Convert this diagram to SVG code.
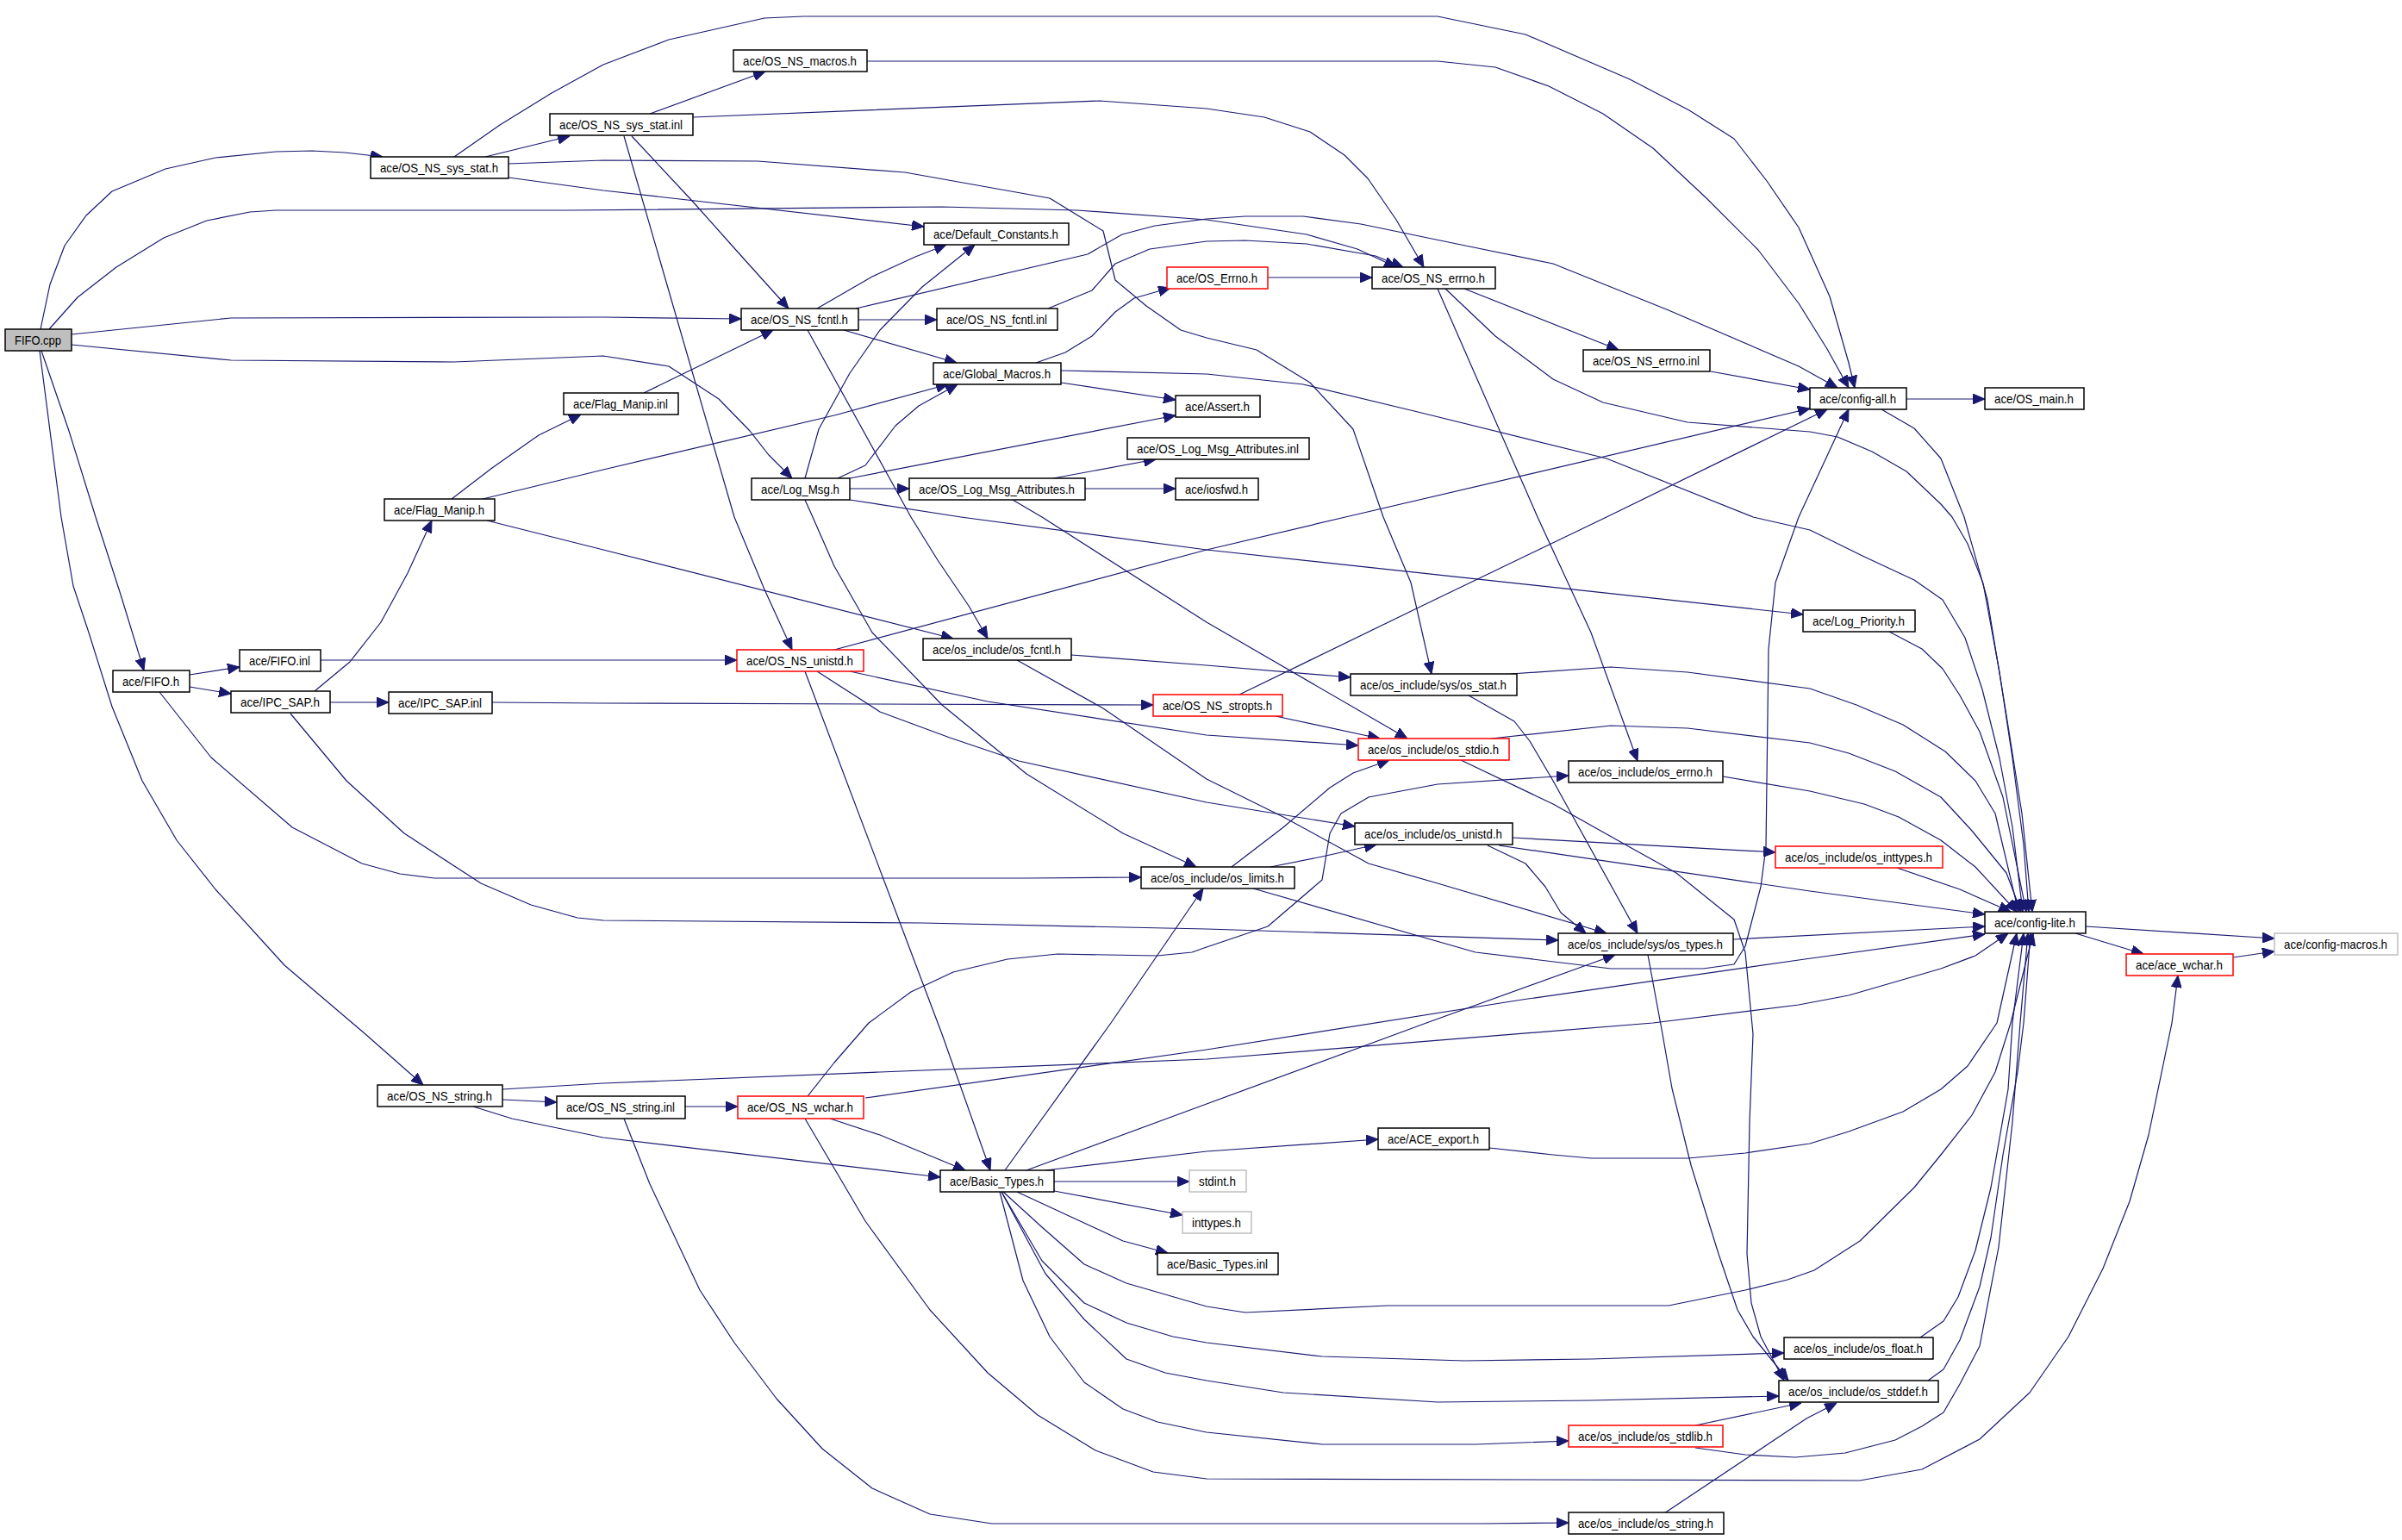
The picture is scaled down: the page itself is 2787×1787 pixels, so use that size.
<svg xmlns="http://www.w3.org/2000/svg" width="2787" height="1787" viewBox="0 0 2787 1787">
<defs>
<style>
.e{fill:none;stroke:#191970;stroke-width:1.2;stroke-linejoin:round;marker-end:url(#a)}
.n rect{fill:#ffffff;stroke:#000000;stroke-width:1.5}
.n.r rect{stroke:#ff0000}
.n.g rect{stroke:#bfbfbf}
.n.s rect{fill:#bfbfbf}
.n text{font-family:"Liberation Sans",Arial,Helvetica,sans-serif;font-size:15px;fill:#000000}
</style>
<marker id="a" markerWidth="14" markerHeight="12" refX="14" refY="6" orient="auto" markerUnits="userSpaceOnUse">
<path d="M0,0 L14,6 L0,12 z" fill="#191970" stroke="#191970" stroke-width="1"/>
</marker>
</defs>
<rect width="2787" height="1787" fill="#ffffff"/>
<g id="edges">
<polyline class="e" points="47,382 58,330 75,285 100,250 130,222 192,196 250,183 320,176 362,175 400,177 444,182"/>
<polyline class="e" points="57,382 90,345 135,310 190,276 240,256 290,246 320,244 660,244 1093,240 1250,244 1400,255 1516,272 1575,289 1620,310"/>
<polyline class="e" points="83,388 268,369 700,368 860,370"/>
<polyline class="e" points="83,400 268,418 527,420 700,413 776,425 834,463 870,500 892,528 919,555"/>
<polyline class="e" points="48,407 80,500 111,600 140,690 167,778"/>
<polyline class="e" points="46,407 58,500 71,600 85,680 103,734 130,820 165,906 205,975 250,1032 330,1120 424,1200 491,1259"/>
<polyline class="e" points="563,182 661,158"/>
<polyline class="e" points="527,182 580,145 640,108 700,75 776,46 887,21 932,19 1400,19 1668,19 1770,40 1891,92 1960,128 2012,161 2050,210 2087,264 2123,344 2145,421 2152,450"/>
<polyline class="e" points="590,206 700,221 1072,263"/>
<polyline class="e" points="590,190 700,186 879,187 1050,200 1218,230 1280,268 1294,325 1330,355 1370,383 1400,392 1458,406 1520,444 1570,498 1605,600 1637,676 1661,782"/>
<polyline class="e" points="1006,71 1668,71 1735,78 1797,100 1860,132 1918,172 1980,230 2040,290 2087,352 2120,405 2145,450"/>
<polyline class="e" points="754,132 888,83"/>
<polyline class="e" points="804,136 1276,117 1400,126 1467,136 1520,153 1560,180 1587,207 1620,255 1652,310"/>
<polyline class="e" points="733,158 803,233 861,298 915,358"/>
<polyline class="e" points="724,158 852,600 887,684 919,754"/>
<polyline class="e" points="948,358 1012,321 1062,298 1098,284"/>
<polyline class="e" points="996,371 1087,371"/>
<polyline class="e" points="979,383 1110,421"/>
<polyline class="e" points="993,358 1262,295 1302,272 1340,262 1400,254 1445,251 1512,251 1579,260 1700,285 1802,306 1936,360 2087,425 2132,450"/>
<polyline class="e" points="937,383 1057,600 1088,650 1124,703 1146,741"/>
<polyline class="e" points="1216,358 1267,337 1294,306 1334,289 1400,280 1445,279 1516,283 1596,297 1628,310"/>
<polyline class="e" points="1202,421 1236,409 1267,390 1294,362 1316,346 1358,334"/>
<polyline class="e" points="1231,444 1364,464"/>
<polyline class="e" points="1231,430 1400,434 1512,446 1645,478 1864,532 2034,600 2100,615 2163,646 2221,673 2254,696 2280,740 2300,800 2320,880 2335,960 2347,1058"/>
<polyline class="e" points="747,456 897,383"/>
<polyline class="e" points="524,579 571,543 625,505 674,481"/>
<polyline class="e" points="560,579 700,545 968,482 1100,446"/>
<polyline class="e" points="565,604 700,638 1106,741"/>
<polyline class="e" points="934,555 950,498 986,433 1021,383 1070,333 1131,284"/>
<polyline class="e" points="972,555 1004,540 1039,494 1066,471 1111,446"/>
<polyline class="e" points="986,555 1364,482"/>
<polyline class="e" points="986,567 1055,567"/>
<polyline class="e" points="986,580 1115,600 1400,638 2092,713"/>
<polyline class="e" points="934,580 943,600 968,657 1012,734 1093,818 1191,898 1303,967 1388,1006"/>
<polyline class="e" points="1222,555 1341,533"/>
<polyline class="e" points="1259,567 1364,567"/>
<polyline class="e" points="1175,580 1209,600 1400,722 1633,857"/>
<polyline class="e" points="1699,335 1878,406"/>
<polyline class="e" points="1677,335 1735,390 1802,440 1860,467 1958,490 2100,501 2132,507 2172,524 2212,547 2252,585 2265,600 2283,631 2301,677 2320,780 2335,880 2348,980 2354,1058"/>
<polyline class="e" points="1668,335 1784,600 1846,734 1900,883"/>
<polyline class="e" points="1471,322 1592,322"/>
<polyline class="e" points="1985,431 2100,452"/>
<polyline class="e" points="2212,463 2303,463"/>
<polyline class="e" points="2183,475 2221,497 2252,532 2279,600 2306,696 2328,830 2346,944 2358,1058"/>
<polyline class="e" points="2192,733 2230,753 2254,776 2274,807 2297,849 2324,925 2351,1058"/>
<polyline class="e" points="220,783 278,774"/>
<polyline class="e" points="220,797 268,805"/>
<polyline class="e" points="185,803 245,879 339,960 420,1002 464,1014 504,1019 700,1019 1191,1019 1324,1018"/>
<polyline class="e" points="372,766 855,766"/>
<polyline class="e" points="365,802 406,768 442,722 473,665 501,604"/>
<polyline class="e" points="383,815 451,815"/>
<polyline class="e" points="337,828 402,906 469,967 558,1025 616,1050 670,1065 700,1068 1070,1071 1400,1078 1808,1091"/>
<polyline class="e" points="571,815 700,816 1338,818"/>
<polyline class="e" points="968,754 1400,638 1561,600 2100,474"/>
<polyline class="e" points="986,779 1146,814 1400,853 1576,865"/>
<polyline class="e" points="948,779 1021,826 1102,856 1182,883 1400,931 1572,959"/>
<polyline class="e" points="934,779 1093,1200 1149,1358"/>
<polyline class="e" points="1243,760 1400,772 1567,786"/>
<polyline class="e" points="1180,766 1280,822 1400,904 1489,948 1588,1002 1668,1025 1864,1083"/>
<polyline class="e" points="1438,806 1650,703 1864,600 2120,475"/>
<polyline class="e" points="1480,831 1601,857"/>
<polyline class="e" points="1753,782 1869,774 1958,780 2100,799 2154,818 2208,841 2257,872 2292,906 2315,944 2342,1058"/>
<polyline class="e" points="1704,807 1757,837 1775,860 1802,906 1900,1083"/>
<polyline class="e" points="1730,857 1869,842 1958,845 2100,862 2145,874 2199,895 2252,925 2288,964 2328,1013 2345,1058"/>
<polyline class="e" points="1695,882 1802,933 1891,983 1945,1013 2012,1067 2025,1105 2034,1200 2030,1302 2027,1455 2032,1512 2043,1551 2070,1602"/>
<polyline class="e" points="1999,901 2100,918 2163,933 2203,948 2252,975 2292,1006 2340,1058"/>
<polyline class="e" points="1755,972 2060,989"/>
<polyline class="e" points="1739,981 2100,1034 2303,1061"/>
<polyline class="e" points="1726,981 1770,1002 1793,1029 1811,1059 1840,1083"/>
<polyline class="e" points="1429,1006 1489,960 1543,914 1570,897 1612,882"/>
<polyline class="e" points="1474,1006 1534,994 1597,980"/>
<polyline class="e" points="1454,1031 1712,1105 1869,1124 1976,1124 2012,1119 2025,1098 2043,1029 2049,983 2052,753 2060,676 2087,600 2145,475"/>
<polyline class="e" points="1166,1358 1289,1187 1396,1031"/>
<polyline class="e" points="1191,1358 1400,1281 1655,1187 1874,1108"/>
<polyline class="e" points="1213,1358 1400,1336 1599,1322"/>
<polyline class="e" points="1223,1371 1380,1371"/>
<polyline class="e" points="1223,1382 1372,1410"/>
<polyline class="e" points="1180,1383 1303,1440 1355,1454"/>
<polyline class="e" points="1164,1383 1209,1424 1258,1467 1307,1489 1400,1516 1445,1523 1610,1515 1936,1515 2025,1497 2074,1485 2105,1474 2158,1440 2221,1378 2252,1340 2288,1294 2315,1244 2333,1187 2359,1083"/>
<polyline class="e" points="1162,1383 1209,1463 1258,1512 1307,1535 1361,1551 1400,1558 1534,1574 1699,1579 1846,1577 2070,1570"/>
<polyline class="e" points="1162,1383 1213,1478 1258,1531 1307,1577 1352,1593 1400,1602 1489,1616 1668,1627 1846,1625 2064,1620"/>
<polyline class="e" points="1160,1383 1187,1486 1218,1551 1258,1604 1303,1635 1343,1650 1400,1662 1534,1676 1712,1676 1820,1672"/>
<polyline class="e" points="963,1298 1021,1317 1120,1358"/>
<polyline class="e" points="1004,1274 1400,1218 1766,1160 2087,1114 2303,1084"/>
<polyline class="e" points="937,1272 968,1233 1008,1187 1057,1151 1106,1128 1169,1113 1227,1107 1343,1109 1383,1105 1400,1099 1471,1075 1534,1021 1543,967 1556,944 1588,925 1668,910 1820,900"/>
<polyline class="e" points="934,1298 1004,1417 1079,1520 1146,1593 1204,1642 1271,1683 1338,1708 1400,1716 2158,1718 2230,1705 2297,1670 2355,1616 2400,1551 2440,1472 2471,1394 2493,1317 2520,1187 2527,1132"/>
<polyline class="e" points="583,1276 646,1279"/>
<polyline class="e" points="583,1264 700,1257 1021,1244 1400,1229 1918,1187 2087,1166 2145,1155 2252,1124 2292,1109 2330,1083"/>
<polyline class="e" points="549,1284 594,1298 700,1320 1091,1366"/>
<polyline class="e" points="795,1284 856,1284"/>
<polyline class="e" points="724,1298 754,1374 812,1497 852,1558 901,1623 954,1681 1012,1727 1079,1757 1151,1768 1400,1768 1721,1768 1820,1767"/>
<polyline class="e" points="1931,1756 2096,1646 2131,1628"/>
<polyline class="e" points="1967,1654 2090,1628"/>
<polyline class="e" points="1967,1680 2025,1688 2083,1691 2141,1686 2199,1671 2230,1655 2255,1639 2274,1606 2297,1562 2319,1447 2335,1302 2344,1187 2353,1083"/>
<polyline class="e" points="2228,1552 2255,1533 2272,1505 2292,1451 2310,1378 2330,1264 2335,1187 2348,1083"/>
<polyline class="e" points="2237,1602 2255,1589 2274,1555 2297,1493 2310,1436 2324,1340 2341,1244 2348,1187 2356,1083"/>
<polyline class="e" points="1728,1332 1802,1340 1846,1344 1958,1344 2025,1338 2100,1327 2145,1313 2208,1290 2252,1264 2283,1237 2317,1187 2340,1083"/>
<polyline class="e" points="2011,1090 2303,1075"/>
<polyline class="e" points="1912,1108 1929,1200 1940,1263 1962,1352 1994,1455 2016,1520 2034,1551 2075,1602"/>
<polyline class="e" points="2201,1007 2274,1032 2333,1058"/>
<polyline class="e" points="2420,1075 2639,1089"/>
<polyline class="e" points="2408,1083 2487,1107"/>
<polyline class="e" points="2591,1111 2639,1104"/>
</g>
<g id="n1" class="n s"><rect x="6" y="382" width="77" height="25"/><text x="17" y="400" textLength="54" lengthAdjust="spacingAndGlyphs">FIFO.cpp</text></g>
<g id="n2" class="n"><rect x="430" y="182" width="160" height="25"/><text x="441" y="200" textLength="137" lengthAdjust="spacingAndGlyphs">ace/OS_NS_sys_stat.h</text></g>
<g id="n3" class="n"><rect x="851" y="58" width="155" height="25"/><text x="862" y="76" textLength="132" lengthAdjust="spacingAndGlyphs">ace/OS_NS_macros.h</text></g>
<g id="n4" class="n"><rect x="638" y="132" width="166" height="25"/><text x="649" y="150" textLength="143" lengthAdjust="spacingAndGlyphs">ace/OS_NS_sys_stat.inl</text></g>
<g id="n5" class="n"><rect x="1072" y="259" width="168" height="25"/><text x="1083" y="277" textLength="145" lengthAdjust="spacingAndGlyphs">ace/Default_Constants.h</text></g>
<g id="n6" class="n"><rect x="860" y="358" width="136" height="25"/><text x="871" y="376" textLength="113" lengthAdjust="spacingAndGlyphs">ace/OS_NS_fcntl.h</text></g>
<g id="n7" class="n"><rect x="1087" y="358" width="140" height="25"/><text x="1098" y="376" textLength="117" lengthAdjust="spacingAndGlyphs">ace/OS_NS_fcntl.inl</text></g>
<g id="n8" class="n r"><rect x="1354" y="310" width="117" height="25"/><text x="1365" y="328" textLength="94" lengthAdjust="spacingAndGlyphs">ace/OS_Errno.h</text></g>
<g id="n9" class="n"><rect x="1592" y="310" width="143" height="25"/><text x="1603" y="328" textLength="120" lengthAdjust="spacingAndGlyphs">ace/OS_NS_errno.h</text></g>
<g id="n10" class="n"><rect x="1837" y="406" width="147" height="25"/><text x="1848" y="424" textLength="124" lengthAdjust="spacingAndGlyphs">ace/OS_NS_errno.inl</text></g>
<g id="n11" class="n"><rect x="2100" y="450" width="112" height="25"/><text x="2111" y="468" textLength="89" lengthAdjust="spacingAndGlyphs">ace/config-all.h</text></g>
<g id="n12" class="n"><rect x="2303" y="450" width="115" height="25"/><text x="2314" y="468" textLength="92" lengthAdjust="spacingAndGlyphs">ace/OS_main.h</text></g>
<g id="n13" class="n"><rect x="1083" y="421" width="148" height="25"/><text x="1094" y="439" textLength="125" lengthAdjust="spacingAndGlyphs">ace/Global_Macros.h</text></g>
<g id="n14" class="n"><rect x="1364" y="459" width="98" height="25"/><text x="1375" y="477" textLength="75" lengthAdjust="spacingAndGlyphs">ace/Assert.h</text></g>
<g id="n15" class="n"><rect x="654" y="456" width="133" height="25"/><text x="665" y="474" textLength="110" lengthAdjust="spacingAndGlyphs">ace/Flag_Manip.inl</text></g>
<g id="n16" class="n"><rect x="446" y="579" width="128" height="25"/><text x="457" y="597" textLength="105" lengthAdjust="spacingAndGlyphs">ace/Flag_Manip.h</text></g>
<g id="n17" class="n"><rect x="872" y="555" width="114" height="25"/><text x="883" y="573" textLength="91" lengthAdjust="spacingAndGlyphs">ace/Log_Msg.h</text></g>
<g id="n18" class="n"><rect x="1055" y="555" width="204" height="25"/><text x="1066" y="573" textLength="181" lengthAdjust="spacingAndGlyphs">ace/OS_Log_Msg_Attributes.h</text></g>
<g id="n19" class="n"><rect x="1308" y="508" width="211" height="25"/><text x="1319" y="526" textLength="188" lengthAdjust="spacingAndGlyphs">ace/OS_Log_Msg_Attributes.inl</text></g>
<g id="n20" class="n"><rect x="1364" y="555" width="96" height="25"/><text x="1375" y="573" textLength="73" lengthAdjust="spacingAndGlyphs">ace/iosfwd.h</text></g>
<g id="n21" class="n"><rect x="2092" y="708" width="130" height="25"/><text x="2103" y="726" textLength="107" lengthAdjust="spacingAndGlyphs">ace/Log_Priority.h</text></g>
<g id="n22" class="n"><rect x="131" y="778" width="89" height="25"/><text x="142" y="796" textLength="66" lengthAdjust="spacingAndGlyphs">ace/FIFO.h</text></g>
<g id="n23" class="n"><rect x="278" y="754" width="94" height="25"/><text x="289" y="772" textLength="71" lengthAdjust="spacingAndGlyphs">ace/FIFO.inl</text></g>
<g id="n24" class="n"><rect x="268" y="802" width="115" height="25"/><text x="279" y="820" textLength="92" lengthAdjust="spacingAndGlyphs">ace/IPC_SAP.h</text></g>
<g id="n25" class="n"><rect x="451" y="803" width="120" height="25"/><text x="462" y="821" textLength="97" lengthAdjust="spacingAndGlyphs">ace/IPC_SAP.inl</text></g>
<g id="n26" class="n r"><rect x="855" y="754" width="147" height="25"/><text x="866" y="772" textLength="124" lengthAdjust="spacingAndGlyphs">ace/OS_NS_unistd.h</text></g>
<g id="n27" class="n"><rect x="1071" y="741" width="172" height="25"/><text x="1082" y="759" textLength="149" lengthAdjust="spacingAndGlyphs">ace/os_include/os_fcntl.h</text></g>
<g id="n28" class="n r"><rect x="1338" y="806" width="150" height="25"/><text x="1349" y="824" textLength="127" lengthAdjust="spacingAndGlyphs">ace/OS_NS_stropts.h</text></g>
<g id="n29" class="n"><rect x="1567" y="782" width="193" height="25"/><text x="1578" y="800" textLength="170" lengthAdjust="spacingAndGlyphs">ace/os_include/sys/os_stat.h</text></g>
<g id="n30" class="n r"><rect x="1576" y="857" width="175" height="25"/><text x="1587" y="875" textLength="152" lengthAdjust="spacingAndGlyphs">ace/os_include/os_stdio.h</text></g>
<g id="n31" class="n"><rect x="1820" y="883" width="179" height="25"/><text x="1831" y="901" textLength="156" lengthAdjust="spacingAndGlyphs">ace/os_include/os_errno.h</text></g>
<g id="n32" class="n"><rect x="1572" y="955" width="183" height="25"/><text x="1583" y="973" textLength="160" lengthAdjust="spacingAndGlyphs">ace/os_include/os_unistd.h</text></g>
<g id="n33" class="n r"><rect x="2060" y="982" width="194" height="25"/><text x="2071" y="1000" textLength="171" lengthAdjust="spacingAndGlyphs">ace/os_include/os_inttypes.h</text></g>
<g id="n34" class="n"><rect x="1324" y="1006" width="178" height="25"/><text x="1335" y="1024" textLength="155" lengthAdjust="spacingAndGlyphs">ace/os_include/os_limits.h</text></g>
<g id="n35" class="n"><rect x="1808" y="1083" width="203" height="25"/><text x="1819" y="1101" textLength="180" lengthAdjust="spacingAndGlyphs">ace/os_include/sys/os_types.h</text></g>
<g id="n36" class="n"><rect x="2303" y="1058" width="117" height="25"/><text x="2314" y="1076" textLength="94" lengthAdjust="spacingAndGlyphs">ace/config-lite.h</text></g>
<g id="n37" class="n g"><rect x="2639" y="1083" width="143" height="25"/><text x="2650" y="1101" textLength="120" lengthAdjust="spacingAndGlyphs">ace/config-macros.h</text></g>
<g id="n38" class="n r"><rect x="2467" y="1107" width="124" height="25"/><text x="2478" y="1125" textLength="101" lengthAdjust="spacingAndGlyphs">ace/ace_wchar.h</text></g>
<g id="n39" class="n"><rect x="438" y="1259" width="145" height="25"/><text x="449" y="1277" textLength="122" lengthAdjust="spacingAndGlyphs">ace/OS_NS_string.h</text></g>
<g id="n40" class="n"><rect x="646" y="1272" width="149" height="26"/><text x="657" y="1290" textLength="126" lengthAdjust="spacingAndGlyphs">ace/OS_NS_string.inl</text></g>
<g id="n41" class="n r"><rect x="856" y="1272" width="146" height="26"/><text x="867" y="1290" textLength="123" lengthAdjust="spacingAndGlyphs">ace/OS_NS_wchar.h</text></g>
<g id="n42" class="n"><rect x="1091" y="1358" width="132" height="25"/><text x="1102" y="1376" textLength="109" lengthAdjust="spacingAndGlyphs">ace/Basic_Types.h</text></g>
<g id="n43" class="n"><rect x="1599" y="1309" width="129" height="25"/><text x="1610" y="1327" textLength="106" lengthAdjust="spacingAndGlyphs">ace/ACE_export.h</text></g>
<g id="n44" class="n g"><rect x="1380" y="1358" width="66" height="25"/><text x="1391" y="1376" textLength="43" lengthAdjust="spacingAndGlyphs">stdint.h</text></g>
<g id="n45" class="n g"><rect x="1372" y="1406" width="80" height="25"/><text x="1383" y="1424" textLength="57" lengthAdjust="spacingAndGlyphs">inttypes.h</text></g>
<g id="n46" class="n"><rect x="1343" y="1454" width="140" height="25"/><text x="1354" y="1472" textLength="117" lengthAdjust="spacingAndGlyphs">ace/Basic_Types.inl</text></g>
<g id="n47" class="n"><rect x="2070" y="1552" width="173" height="25"/><text x="2081" y="1570" textLength="150" lengthAdjust="spacingAndGlyphs">ace/os_include/os_float.h</text></g>
<g id="n48" class="n"><rect x="2064" y="1602" width="185" height="25"/><text x="2075" y="1620" textLength="162" lengthAdjust="spacingAndGlyphs">ace/os_include/os_stddef.h</text></g>
<g id="n49" class="n r"><rect x="1820" y="1654" width="179" height="25"/><text x="1831" y="1672" textLength="156" lengthAdjust="spacingAndGlyphs">ace/os_include/os_stdlib.h</text></g>
<g id="n50" class="n"><rect x="1820" y="1755" width="180" height="25"/><text x="1831" y="1773" textLength="157" lengthAdjust="spacingAndGlyphs">ace/os_include/os_string.h</text></g>
</svg>
